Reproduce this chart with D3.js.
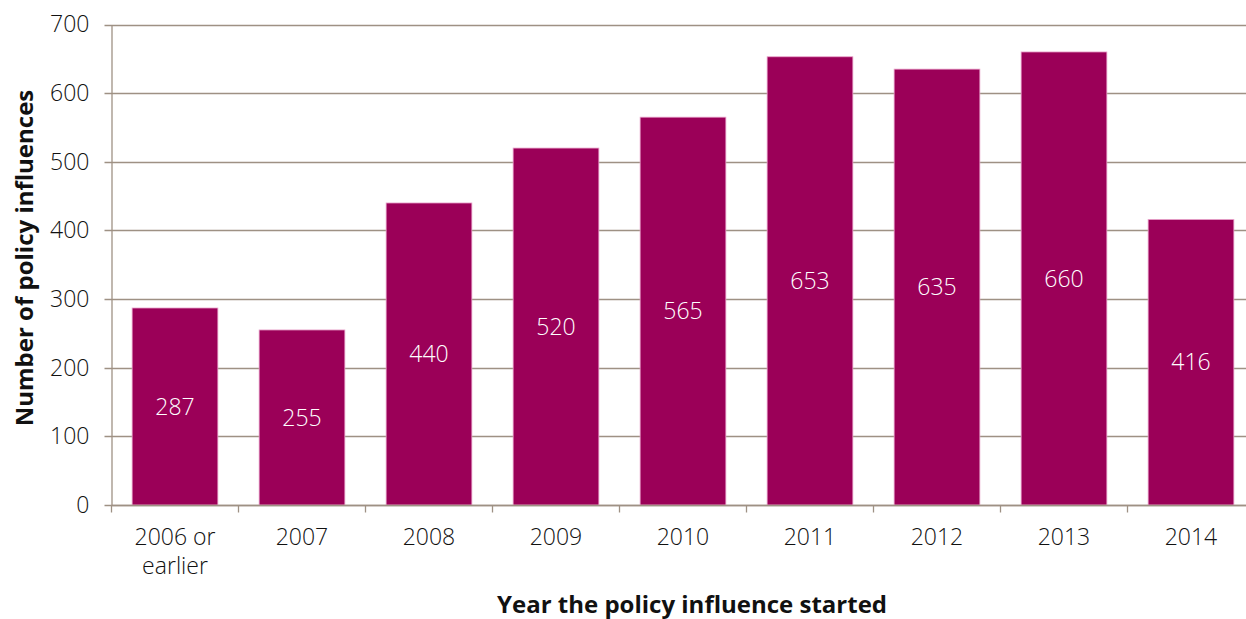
<!DOCTYPE html>
<html>
<head>
<meta charset="utf-8">
<script src="https://cdn.jsdelivr.net/npm/d3@7"></script>
<style>
  html, body { margin: 0; padding: 0; background: #fff; }
  svg { display: block; }
  .tick text { font-family: "Open Sans", "Noto Sans", sans-serif; font-weight: 300; }
</style>
</head>
<body>
<svg id="chart" width="1246" height="619"></svg>
<script>
// Policy influences by start year
const categories = ["2006 or earlier", "2007", "2008", "2009", "2010", "2011", "2012", "2013", "2014"];
const categoryLines = [["2006 or", "earlier"], ["2007"], ["2008"], ["2009"], ["2010"], ["2011"], ["2012"], ["2013"], ["2014"]];
const influences = [287, 255, 440, 520, 565, 653, 635, 660, 416];
const yTicks = [0, 100, 200, 300, 400, 500, 600, 700];

const svg = d3.select("#chart");
const plotLeft = 111.5, plotRight = 1254.5, plotTop = 24.5, plotBottom = 505;
const fontFamily = "'Open Sans', 'Noto Sans', sans-serif";
const gridColor = "#9e9184";
const barColor = "#9b0058";

const x = d3.scaleBand().domain(categories).range([plotLeft, plotRight]).paddingInner(0.325).paddingOuter(0.1625);
const y = d3.scaleLinear().domain([0, 700]).range([plotBottom, plotTop]);

// horizontal gridlines
svg.append("g").selectAll("line").data(yTicks).join("line")
  .attr("x1", plotLeft - 7).attr("x2", 1246)
  .attr("y1", d => Math.round(y(d)) + 0.5).attr("y2", d => Math.round(y(d)) + 0.5)
  .attr("stroke", gridColor).attr("stroke-width", 1.3);

// bars
svg.append("g").selectAll("rect").data(influences).join("rect")
  .attr("x", (d, i) => x(categories[i]))
  .attr("width", x.bandwidth())
  .attr("y", d => y(d))
  .attr("height", d => y(0) - y(d))
  .attr("fill", barColor)
  .attr("stroke", "#e9a3cb").attr("stroke-width", 0.8);

// value labels, centred in each bar
svg.append("g").selectAll("text").data(influences).join("text")
  .attr("x", (d, i) => x(categories[i]) + x.bandwidth() / 2)
  .attr("y", d => y(d / 2))
  .attr("dy", "0.35em")
  .attr("text-anchor", "middle")
  .attr("fill", "#fff")
  .style("font-family", fontFamily).style("font-weight", 300)
  .style("font-size", "23px")
  .text(d => d);

// y axis
const yAxis = svg.append("g").attr("transform", `translate(${plotLeft},0)`)
  .call(d3.axisLeft(y).tickValues(yTicks).tickSize(0).tickPadding(22));
yAxis.select(".domain").attr("stroke", gridColor).attr("stroke-width", 1.3);
yAxis.selectAll("text").attr("fill", "#111").style("font-size", "23px");

// x axis with ticks at category boundaries
const xAxisG = svg.append("g").attr("transform", `translate(0,${Math.round(plotBottom) + 0.5})`);
xAxisG.append("line").attr("x1", plotLeft).attr("x2", 1246).attr("stroke", gridColor).attr("stroke-width", 1.3);
const step = x.step();
const boundaries = categories.map((c, i) => plotLeft + i * step);
xAxisG.selectAll(".bt").data(boundaries).join("line").attr("class", "bt")
  .attr("x1", d => d).attr("x2", d => d).attr("y1", 0).attr("y2", 7)
  .attr("stroke", gridColor).attr("stroke-width", 1.3);

// category labels, one text per line
const labelLines = [];
categories.forEach((c, i) => categoryLines[i].forEach((line, j) => labelLines.push({ c, line, j })));
svg.append("g").selectAll("text").data(labelLines).join("text")
  .attr("x", d => x(d.c) + x.bandwidth() / 2)
  .attr("y", d => 545 + d.j * 29)
  .attr("text-anchor", "middle")
  .attr("fill", "#111")
  .style("font-family", fontFamily).style("font-weight", 300)
  .style("font-size", "23px")
  .text(d => d.line);

// axis titles
svg.append("text")
  .attr("x", 692).attr("y", 613)
  .attr("text-anchor", "middle")
  .attr("fill", "#111")
  .style("font-family", fontFamily).style("font-weight", 700).style("font-size", "24px")
  .text("Year the policy influence started");

svg.append("text")
  .attr("transform", `translate(33,258) rotate(-90)`)
  .attr("text-anchor", "middle")
  .attr("fill", "#111")
  .style("font-family", fontFamily).style("font-weight", 700).style("font-size", "24px")
  .text("Number of policy influences");
</script>
</body>
</html>
